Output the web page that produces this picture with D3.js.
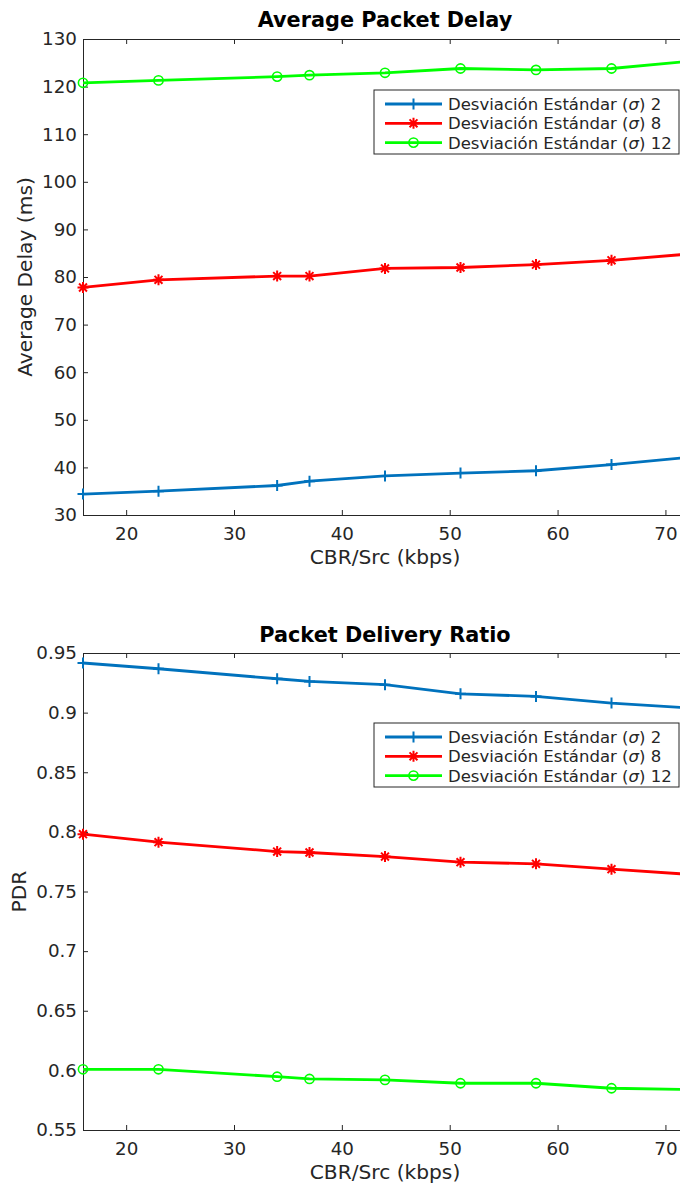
<!DOCTYPE html>
<html>
<head>
<meta charset="utf-8">
<script src="https://cdn.jsdelivr.net/npm/d3@7"></script>
<style>
body { margin: 0; background: #fff; }
svg { display: block; font-family: "DejaVu Sans", sans-serif; }
</style>
</head>
<body>
<div id="chart"></div>
<script>
// x values (kbps)
const cbr = [16, 23, 34, 37, 44, 51, 58, 65, 72]

// average delay (ms)
const delaySigma2 = [34.4, 35.0, 36.2, 37.1, 38.2, 38.8, 39.3, 40.6, 42.1]
const delaySigma8 = [77.8, 79.4, 80.2, 80.2, 81.8, 82.0, 82.6, 83.5, 84.8]
const delaySigma12 = [120.8, 121.3, 122.1, 122.4, 122.9, 123.8, 123.5, 123.8, 125.3]

// packet delivery ratio
const pdrSigma2 = [0.9416, 0.9368, 0.9284, 0.9262, 0.9234, 0.9158, 0.9136, 0.908, 0.904]
const pdrSigma8 = [0.7981, 0.7914, 0.7835, 0.7827, 0.7793, 0.7746, 0.7732, 0.7687, 0.7645]
const pdrSigma12 = [0.6009, 0.6009, 0.5947, 0.5928, 0.592, 0.5892, 0.5892, 0.585, 0.584]

const sigmaLabels = ['2', '8', '12']
const xTicks = [20, 30, 40, 50, 60, 70]
const delayTicks = [30, 40, 50, 60, 70, 80, 90, 100, 110, 120, 130]
const pdrTicks = [0.55, 0.6, 0.65, 0.7, 0.75, 0.8, 0.85, 0.9, 0.95]

const colors = ['#0072BD', '#FF0000', '#00FF00']
const markers = ['plus', 'star', 'circle']
const axisColor = '#262626'

var width = 680,
    height = 1183;

var svg = d3.select('#chart')
  .append('svg')
  .attr('width', width)
  .attr('height', height)

const x = d3.scaleLinear()
  .domain([16, 72])
  .range([83, 687])

const markerPath = (type) => {
  const s = 5.5
  if (type == 'plus') return `M${-s},0H${s}M0,${-s}V${s}`
  if (type == 'star') {
    const d = s * 0.72
    return `M${-s},0H${s}M0,${-s}V${s}M${-d},${-d}L${d},${d}M${-d},${d}L${d},${-d}`
  }
  return d3.arc()({innerRadius: 0, outerRadius: 4.6, startAngle: 0, endAngle: 2 * Math.PI})
}

const drawMarker = (g, type, color, cx, cy) => {
  g.append('path')
    .attr('d', markerPath(type))
    .attr('transform', `translate(${cx},${cy})`)
    .attr('fill', 'none')
    .attr('stroke', color)
    .attr('stroke-width', type == 'circle' ? 1.6 : 2)
}

const drawPanel = (opt) => {
  const y = d3.scaleLinear().domain(opt.domain).range([opt.bottom, opt.top])
  const g = svg.append('g')
  const clipId = 'clip' + opt.id

  svg.append('clipPath').attr('id', clipId)
    .append('rect')
    .attr('x', 83).attr('y', opt.top)
    .attr('width', 604).attr('height', opt.bottom - opt.top)

  // axes
  const xAxis = g.append('g')
    .attr('transform', `translate(0,${opt.bottom})`)
    .call(d3.axisBottom(x).tickValues(xTicks).tickSizeInner(-5).tickSizeOuter(0).tickPadding(12))
  const xTop = g.append('g')
    .attr('transform', `translate(0,${opt.top})`)
    .call(d3.axisTop(x).tickValues(xTicks).tickSizeInner(-5).tickSizeOuter(0).tickFormat(''))
  const yAxis = g.append('g')
    .attr('transform', `translate(83,0)`)
    .call(d3.axisLeft(y).tickValues(opt.ticks).tickSizeInner(-5).tickSizeOuter(0).tickPadding(6)
      .tickFormat(d => String(+d.toFixed(2))))

  ;[xAxis, xTop, yAxis].forEach(a => {
    a.selectAll('path, line').attr('stroke', axisColor).attr('stroke-width', 1)
    a.selectAll('text').attr('fill', axisColor).attr('font-size', 18.3).attr('font-family', '"DejaVu Sans", sans-serif')
  })

  // titles
  g.append('text')
    .attr('x', 385).attr('y', opt.titleY)
    .attr('text-anchor', 'middle')
    .attr('font-size', 20.8).attr('font-weight', 'bold').attr('fill', '#000')
    .text(opt.title)

  g.append('text')
    .attr('x', 385).attr('y', opt.bottom + 49)
    .attr('text-anchor', 'middle')
    .attr('font-size', 20.2).attr('fill', axisColor)
    .text('CBR/Src (kbps)')

  g.append('text')
    .attr('transform', `translate(${opt.yLabelX},${(opt.top + opt.bottom) / 2}) rotate(-90)`)
    .attr('text-anchor', 'middle')
    .attr('font-size', 20.2).attr('fill', axisColor)
    .text(opt.yLabel)

  // series
  const line = d3.line().x((d, i) => x(cbr[i])).y(d => y(d))
  opt.series.forEach((vals, k) => {
    g.append('path')
      .datum(vals)
      .attr('clip-path', `url(#${clipId})`)
      .attr('d', line)
      .attr('fill', 'none')
      .attr('stroke', colors[k])
      .attr('stroke-width', 2.8)
    vals.forEach((v, i) => drawMarker(g, markers[k], colors[k], x(cbr[i]), y(v)))
  })

  // legend
  const lg = g.append('g').attr('transform', `translate(374,${opt.legendTop})`)
  lg.append('rect')
    .attr('x', 0).attr('y', 0).attr('width', 305).attr('height', 64)
    .attr('fill', '#fff').attr('stroke', axisColor).attr('stroke-width', 1)
  sigmaLabels.forEach((lab, k) => {
    const cy = 14 + k * 19.3
    lg.append('line')
      .attr('x1', 11).attr('x2', 68).attr('y1', cy).attr('y2', cy)
      .attr('stroke', colors[k]).attr('stroke-width', 2.8)
    drawMarker(lg, markers[k], colors[k], 39.5, cy)
    const t = lg.append('text')
      .attr('x', 74).attr('y', cy + 6)
      .attr('font-size', 16.5).attr('fill', axisColor)
    t.append('tspan').text('Desviación Estándar (')
    t.append('tspan').attr('font-style', 'italic').text('σ')
    t.append('tspan').text(') ' + lab)
  })
}

drawPanel({
  id: 'delay',
  top: 39, bottom: 515,
  domain: [30, 130], ticks: delayTicks,
  title: 'Average Packet Delay', titleY: 27,
  yLabel: 'Average Delay (ms)', yLabelX: 32,
  legendTop: 90,
  series: [delaySigma2, delaySigma8, delaySigma12]
})

drawPanel({
  id: 'pdr',
  top: 653, bottom: 1130,
  domain: [0.55, 0.95], ticks: pdrTicks,
  title: 'Packet Delivery Ratio', titleY: 642,
  yLabel: 'PDR', yLabelX: 26,
  legendTop: 723,
  series: [pdrSigma2, pdrSigma8, pdrSigma12]
})
</script>
</body>
</html>
